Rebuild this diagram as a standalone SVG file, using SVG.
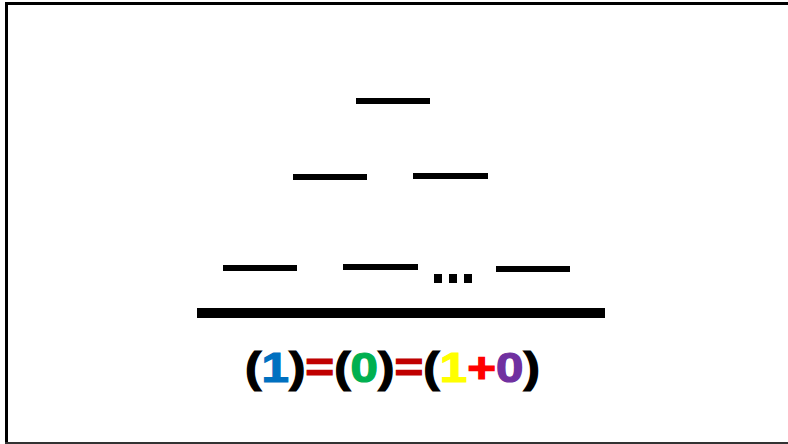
<svg xmlns="http://www.w3.org/2000/svg" width="788" height="444" viewBox="0 0 788 444">
<style>
.bar{fill:#000}
.eq{font-family:"Liberation Sans",Arial,sans-serif;font-weight:bold;font-size:42px;stroke-width:1.2px}
.k{fill:#000;stroke:#000}
.b{fill:#0070C0;stroke:#0070C0}
.r{fill:#C00000;stroke:#C00000}
.g{fill:#00B050;stroke:#00B050}
.y{fill:#FFFF00;stroke:#FFFF00}
.p{fill:#FF0000;stroke:#FF0000}
.v{fill:#7030A0;stroke:#7030A0}
</style>
<rect x="0" y="0" width="788" height="444" fill="#fff"/>
<g id="frame">
<rect x="5" y="2" width="783" height="3" fill="#000"/>
<rect x="5" y="2" width="3" height="442" fill="#000"/>
<rect x="5" y="442" width="783" height="2" fill="#333"/>
</g>
<g id="row1">
<rect class="bar" x="356" y="98" width="74" height="6"/>
</g>
<g id="row2">
<rect class="bar" x="293" y="174" width="74" height="6"/>
<rect class="bar" x="413" y="173" width="75" height="6"/>
</g>
<g id="row3">
<rect class="bar" x="223" y="265" width="74" height="6"/>
<rect class="bar" x="343" y="264" width="75" height="6"/>
<rect class="bar" x="434" y="274" width="8" height="9"/>
<rect class="bar" x="449" y="274" width="8" height="9"/>
<rect class="bar" x="464" y="274" width="8" height="9"/>
<rect class="bar" x="496" y="266" width="74" height="6"/>
</g>
<g id="base">
<rect class="bar" x="197" y="308" width="408" height="10"/>
</g>
<g id="equation">
<text class="eq" x="245" y="382" textLength="295" lengthAdjust="spacingAndGlyphs"><tspan class="k">(</tspan><tspan class="b">1</tspan><tspan class="k">)</tspan><tspan class="r">=</tspan><tspan class="k">(</tspan><tspan class="g">0</tspan><tspan class="k">)</tspan><tspan class="r">=</tspan><tspan class="k">(</tspan><tspan class="y">1</tspan><tspan class="p">+</tspan><tspan class="v">0</tspan><tspan class="k">)</tspan></text>
</g>
</svg>
